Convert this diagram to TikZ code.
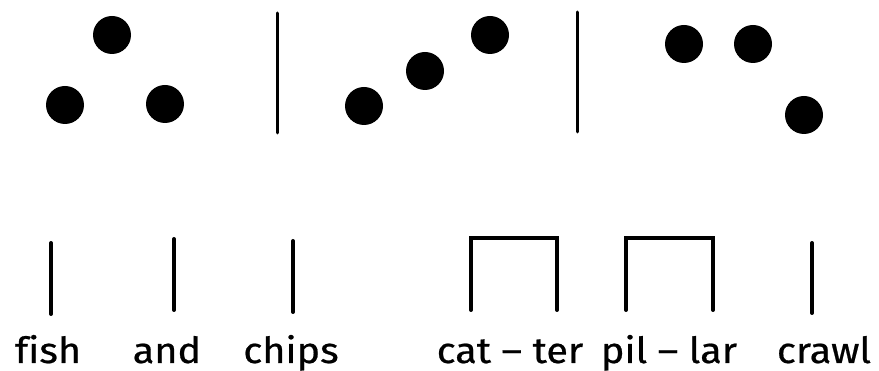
\documentclass[tikz,border=0pt]{standalone}
\usepackage{fontspec}
\setmainfont{Fira Sans}[FakeStretch=1.1, FakeBold=0.6, Ligatures=NoCommon]
\usetikzlibrary{positioning}

\begin{document}
\begin{tikzpicture}[
        x=1pt, y=-1pt,
        every node/.style={font=\fontsize{36}{40}\selectfont},
        beat/.style={circle, fill=black, minimum size=38pt, inner sep=0pt},
        barline/.style={line width=3pt, line cap=round},
        stick/.style={line width=4pt, line cap=round, line join=miter},
        word/.style={anchor=base, inner sep=0pt}
    ]
    \useasboundingbox (0,0) rectangle (879,371);

    % Dots
    \node[beat] (fishdot) at (65,105) {};
    \node[beat] (anddot) at (112,35) {};
    \node[beat] (chipsdot) at (165,104) {};
    \node[beat] (catdot) at (364,106) {};
    \node[beat] (terdot) at (425,71) {};
    \node[beat] (crawldotA) at (490,35) {};
    \node[beat] (pildot) at (684,44) {};
    \node[beat] (lardot) at (753,44) {};
    \node[beat] (crawldot) at (804,115) {};

    % Bar lines
    \coordinate (barAtop) at (277,13);
    \coordinate (barAbot) at (277,133);
    \coordinate (barBtop) at (577,12);
    \coordinate (barBbot) at (577,132);
    \draw[barline] (barAtop) -- (barAbot);
    \draw[barline] (barBtop) -- (barBbot);

    % Words
    \node[word] (fish) at (48,363) {fish};
    \node[word] (and) at (167,363) {and};
    \node[word] (chips) at (291,363) {chips};
    \node[word] (catter) at (510,363) {cat – ter};
    \node[word] (pillar) at (669,363) {pil – lar};
    \node[word] (crawl) at (824,363) {crawl};

    % Sticks
    \draw[stick] (51,243) -- (51,314);
    \draw[stick] (174,239) -- (174,310);
    \draw[stick] (293,241) -- (293,312);
    \draw[stick] (471,310) -- (471,238) -- (557,238) -- (557,310);
    \draw[stick] (626,310) -- (626,238) -- (713,238) -- (713,310);
    \draw[stick] (812,243) -- (812,313);

\end{tikzpicture}
\end{document}
